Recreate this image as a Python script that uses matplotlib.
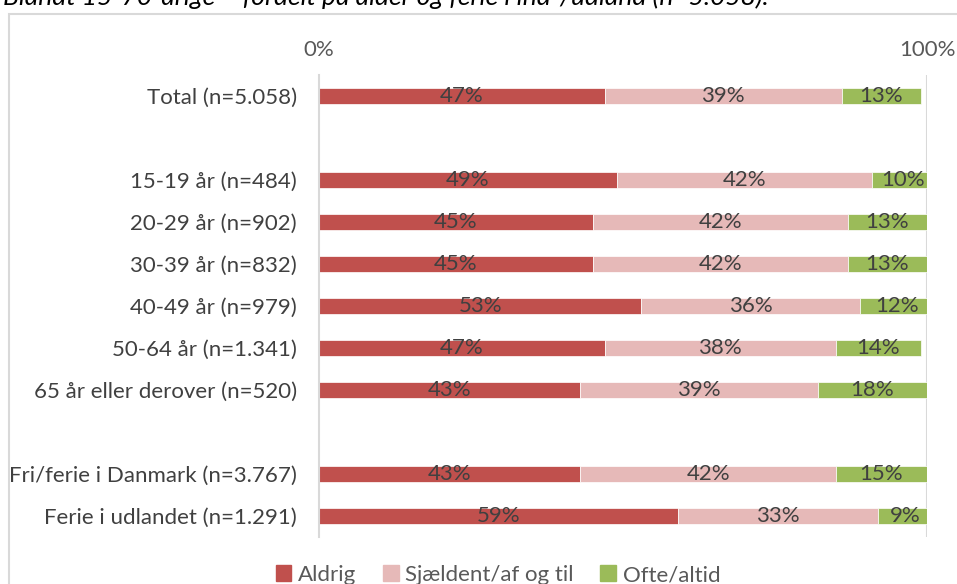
import matplotlib
matplotlib.use("Agg")
import matplotlib.pyplot as plt
from matplotlib.patches import Patch, Rectangle

plt.rcParams['font.family'] = ['Lato', 'DejaVu Sans']

# data
categories = ["Total (n=5.058)", "",
              "15-19 år (n=484)", "20-29 år (n=902)", "30-39 år (n=832)",
              "40-49 år (n=979)", "50-64 år (n=1.341)", "65 år eller derover (n=520)", "",
              "Fri/ferie i Danmark (n=3.767)", "Ferie i udlandet (n=1.291)"]
aldrig = [47, None, 49, 45, 45, 53, 47, 43, None, 43, 59]
sjaeldent = [39, None, 42, 42, 42, 36, 38, 39, None, 42, 33]
ofte = [13, None, 10, 13, 13, 12, 14, 18, None, 15, 9]
series_names = ["Aldrig", "Sjældent/af og til", "Ofte/altid"]
colors = ["#C0504D", "#E6B9B8", "#9BBB59"]
title = "Blandt 15-70-årige – fordelt på alder og ferie i ind-/udland (n=5.058)."

fig = plt.figure(figsize=(9.57, 5.84), dpi=100)
ax = fig.add_axes([319/957, 1-537/584, (927-319)/957, (537-75)/584])

# outer chart border (runs off the right/bottom edge)
fig.patches.append(Rectangle((9/957, -0.1), 1.2, 1 - 14/584 + 0.1, transform=fig.transFigure,
                             fill=False, edgecolor="#D9D9D9", linewidth=1.5))

fs = 16
for i, cat in enumerate(categories):
    if aldrig[i] is None:
        continue
    left = 0
    for vals, col in zip([aldrig, sjaeldent, ofte], colors):
        v = vals[i]
        ax.barh(i, v, left=left, height=0.4, color=col, edgecolor="white", linewidth=0.5)
        ax.text(left + v / 2, i, f"{v}%", ha="center", va="center", fontsize=fs, color="#404040")
        left += v

ax.set_ylim(len(categories) - 0.5, -0.5)
ax.set_xlim(0, 100)
ax.set_yticks(range(len(categories)))
ax.set_yticklabels(categories, fontsize=fs, color="#404040")
ax.tick_params(axis="y", length=0, pad=16)
ax.xaxis.tick_top()
ax.set_xticks([0, 100])
ax.set_xticklabels(["0%", "100%"], fontsize=fs, color="#595959")
ax.tick_params(axis="x", length=0, pad=11)
for s in ["top", "bottom", "right"]:
    ax.spines[s].set_visible(False)
ax.spines["left"].set_color("#D9D9D9")
ax.spines["left"].set_linewidth(1.5)
ax.axvline(100, color="#D9D9D9", linewidth=1.5, zorder=0)

handles = [Patch(color=c, label=n) for c, n in zip(colors, series_names)]
fig.legend(handles=handles, loc="center", bbox_to_anchor=(498/957, 1-575/584), ncol=3,
           frameon=False, fontsize=fs, handlelength=0.7, handleheight=0.7,
           handletextpad=0.3, columnspacing=1.2, labelcolor="#595959")

fig.text(0.003, 1 - 5/584, title, fontsize=19, style="italic", color="#000000",
         ha="left", va="baseline")

fig.savefig("out.png", dpi=100)
